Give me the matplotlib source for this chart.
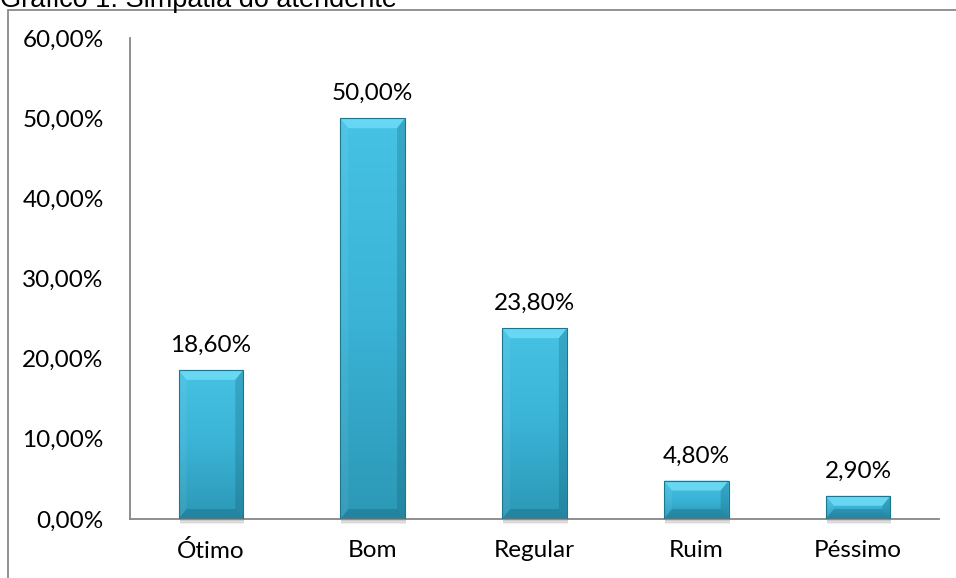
import matplotlib.pyplot as plt
from matplotlib.patches import Polygon, Rectangle
from matplotlib.colors import LinearSegmentedColormap
import numpy as np

categorias = ["Ótimo", "Bom", "Regular", "Ruim", "Péssimo"]
valores = [18.6, 50.0, 23.8, 4.8, 2.9]
rotulos = ["18,60%", "50,00%", "23,80%", "4,80%", "2,90%"]
yticks = [0, 10, 20, 30, 40, 50, 60]
ytick_labels = ["0,00%", "10,00%", "20,00%", "30,00%", "40,00%", "50,00%", "60,00%"]
titulo = "Gráfico 1: Simpatia do atendente"

FONT = "Lato"
FS = 17.5
W, H = 956, 578
fig = plt.figure(figsize=(W / 100, H / 100), dpi=100)

# moldura externa (cortada nas bordas direita e inferior)
fig.patches.append(Rectangle((8 / W, -0.1), 1.2, 1.1 - 10 / H, transform=fig.transFigure,
                             fill=False, edgecolor="#8a8a8a", linewidth=1.3, zorder=0))
fig.text(0.0, 1 - 7 / H, titulo, fontsize=19.5, family="Liberation Sans",
         ha="left", va="baseline")

ax = fig.add_axes([130 / W, 1 - 519 / H, (939 - 130) / W, (519 - 38) / H])
x = np.arange(len(categorias))
bars = ax.bar(x, valores, width=0.40, color="#3ab3d6", edgecolor="none", zorder=2)
ax.set_xlim(-0.5, len(categorias) - 0.5)
ax.set_ylim(0, 60)
ax.set_yticks(yticks)
ax.set_yticklabels(ytick_labels)
ax.set_xticks(x)
ax.set_xticklabels(categorias)
ax.tick_params(length=0, labelsize=FS, colors="black")
ax.tick_params(axis="x", pad=15)
ax.tick_params(axis="y", pad=19)
for lab in ax.get_xticklabels() + ax.get_yticklabels():
    lab.set_family(FONT)
for s in ["top", "right"]:
    ax.spines[s].set_visible(False)
for s in ["left", "bottom"]:
    ax.spines[s].set_color("#868686")
    ax.spines[s].set_linewidth(1.3)

grad = LinearSegmentedColormap.from_list("face", ["#2c98b6", "#3ab3d6", "#46c2e4"])
inv = ax.transData.inverted()
for b in bars:
    bx0, bw, bh = b.get_x(), b.get_width(), b.get_height()
    # preenchimento em degradê vertical recortado pela barra
    im = ax.imshow(np.linspace(0, 1, 100).reshape(-1, 1), cmap=grad, origin="lower",
                   extent=(bx0, bx0 + bw, 0, bh), aspect="auto", zorder=2)
    im.set_clip_path(b)

    # chanfro, calculado em pixels
    x0, y0 = ax.transData.transform((bx0, 0))
    x1, y1 = ax.transData.transform((bx0 + bw, bh))
    ex = min(8, (x1 - x0) / 2)
    ey = min(10, (y1 - y0) / 2)
    faces = [
        ([(x0, y1), (x1, y1), (x1 - ex, y1 - ey), (x0 + ex, y1 - ey)], "#6fdcf6", 0.85),
        ([(x0, y0), (x0, y1), (x0 + ex, y1 - ey), (x0 + ex, y0 + ey)], "#ffffff", 0.06),
        ([(x1, y0), (x1, y1), (x1 - ex, y1 - ey), (x1 - ex, y0 + ey)], "#0b4a5e", 0.22),
        ([(x0, y0), (x1, y0), (x1 - ex, y0 + ey), (x0 + ex, y0 + ey)], "#0b4a5e", 0.25),
    ]
    for pts, cor, a in faces:
        ax.add_patch(Polygon(inv.transform(pts), closed=True, facecolor=cor, alpha=a,
                             edgecolor="none", zorder=3))
    ax.add_patch(Rectangle((bx0, 0), bw, bh, fill=False, edgecolor="#1d7690",
                           linewidth=0.8, zorder=4))
    # sombra suave abaixo da barra
    for k, a in enumerate([0.20, 0.11, 0.05]):
        sh = inv.transform([(x0 + 1, y0 - 1 - k * 1.5), (x1 + 1, y0 - 1 - k * 1.5)])
        ax.plot(sh[:, 0], sh[:, 1], color="black", alpha=a, linewidth=1.5,
                zorder=1, clip_on=False, solid_capstyle="butt")

ax.set_xlim(-0.5, len(categorias) - 0.5)
ax.set_ylim(0, 60)

for b, txt in zip(bars, rotulos):
    ax.annotate(txt, (b.get_x() + b.get_width() / 2, b.get_height()),
                xytext=(0, 10), textcoords="offset points", ha="center",
                va="bottom", fontsize=FS, family=FONT)

fig.savefig("out.png", dpi=100)
